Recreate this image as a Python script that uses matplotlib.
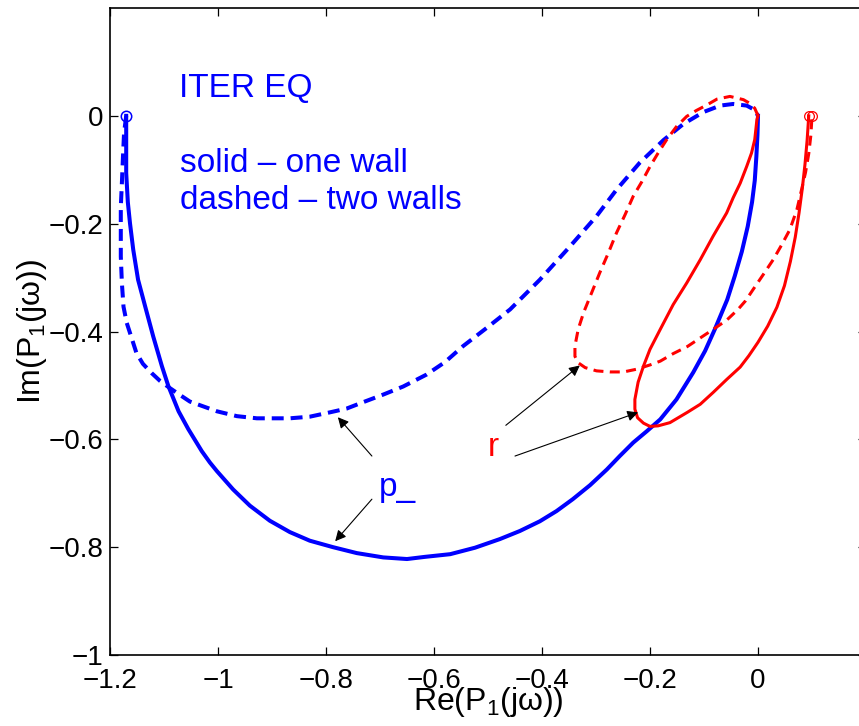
import matplotlib
matplotlib.use("Agg")
import matplotlib.pyplot as plt

plt.rcParams['font.family'] = ['Liberation Sans', 'DejaVu Sans']
plt.rcParams['mathtext.fontset'] = 'custom'
plt.rcParams['mathtext.rm'] = 'Liberation Sans'
plt.rcParams['mathtext.it'] = 'Liberation Sans:italic'
plt.rcParams['lines.scale_dashes'] = False

# ---- data ----
# p_ , one wall (blue solid)
p_one_re = [-1.170, -1.170, -1.170, -1.170, -1.167, -1.163, -1.157, -1.148, -1.135, -1.120,
            -1.104, -1.092, -1.073, -1.055, -1.030, -1.015, -1.002, -0.972, -0.941, -0.904,
            -0.867, -0.830, -0.787, -0.743, -0.694, -0.650, -0.617, -0.570, -0.524, -0.478,
            -0.441, -0.404, -0.373, -0.343, -0.311, -0.280, -0.256, -0.231, -0.206, -0.181,
            -0.151, -0.120, -0.098, -0.080, -0.057, -0.043, -0.030, -0.019, -0.011, -0.006,
            -0.003, -0.001, 0.000]
p_one_im = [0.000, -0.032, -0.076, -0.106, -0.160, -0.199, -0.248, -0.304, -0.353, -0.409,
            -0.464, -0.501, -0.548, -0.581, -0.622, -0.643, -0.659, -0.693, -0.723, -0.751,
            -0.772, -0.788, -0.800, -0.811, -0.819, -0.822, -0.818, -0.813, -0.801, -0.785,
            -0.770, -0.752, -0.733, -0.711, -0.685, -0.656, -0.631, -0.606, -0.585, -0.563,
            -0.526, -0.476, -0.436, -0.396, -0.341, -0.297, -0.252, -0.205, -0.160, -0.120,
            -0.075, -0.035, 0.000]

# p_ , two walls (blue dashed)
p_two_re = [-1.170, -1.174, -1.176, -1.178, -1.180, -1.180, -1.180, -1.178, -1.175, -1.169,
            -1.159, -1.151, -1.139, -1.123, -1.107, -1.089, -1.070, -1.052, -1.002, -0.965,
            -0.928, -0.867, -0.830, -0.793, -0.762, -0.731, -0.694, -0.657, -0.614, -0.580,
            -0.546, -0.502, -0.459, -0.404, -0.348, -0.299, -0.262, -0.219, -0.175, -0.138,
            -0.101, -0.070, -0.046, -0.021, -0.006, 0.000]
p_two_im = [0.000, -0.032, -0.076, -0.125, -0.169, -0.217, -0.261, -0.310, -0.354, -0.384,
            -0.415, -0.440, -0.460, -0.477, -0.492, -0.505, -0.518, -0.530, -0.548, -0.557,
            -0.561, -0.561, -0.558, -0.550, -0.543, -0.531, -0.517, -0.502, -0.480, -0.457,
            -0.427, -0.393, -0.359, -0.304, -0.242, -0.186, -0.137, -0.087, -0.045, -0.015,
            0.007, 0.019, 0.022, 0.019, 0.011, 0.000]

# r , one wall (red solid)
r_one_re = [0.000, -0.002, -0.006, -0.012, -0.021, -0.033, -0.046, -0.058, -0.083, -0.107,
            -0.132, -0.157, -0.181, -0.200, -0.212, -0.222, -0.228, -0.228, -0.223, -0.212,
            -0.200, -0.185, -0.163, -0.131, -0.107, -0.083, -0.058, -0.033, -0.017, 0.000,
            0.018, 0.035, 0.049, 0.060, 0.069, 0.076, 0.082, 0.087, 0.091, 0.094]
r_one_im = [0.000, -0.007, -0.044, -0.069, -0.094, -0.125, -0.152, -0.180, -0.223, -0.267,
            -0.310, -0.350, -0.396, -0.433, -0.464, -0.494, -0.526, -0.544, -0.560, -0.570,
            -0.576, -0.575, -0.569, -0.550, -0.535, -0.513, -0.489, -0.466, -0.445, -0.420,
            -0.390, -0.355, -0.315, -0.270, -0.225, -0.180, -0.135, -0.090, -0.045, 0.000]

# r , two walls (red dashed)
r_two_re = [0.000, -0.006, -0.015, -0.027, -0.052, -0.076, -0.095, -0.114, -0.132, -0.151,
            -0.169, -0.185, -0.200, -0.215, -0.231, -0.246, -0.262, -0.277, -0.293, -0.308,
            -0.323, -0.333, -0.339, -0.339, -0.333, -0.320, -0.299, -0.274, -0.249, -0.225,
            -0.200, -0.181, -0.157, -0.131, -0.107, -0.083, -0.058, -0.037, -0.023, -0.009,
            0.010, 0.028, 0.044, 0.059, 0.072, 0.080, 0.088, 0.094, 0.098, 0.100]
r_two_im = [0.000, 0.014, 0.023, 0.030, 0.036, 0.031, 0.020, 0.010, -0.001, -0.020,
            -0.044, -0.069, -0.094, -0.122, -0.149, -0.183, -0.217, -0.254, -0.291, -0.328,
            -0.365, -0.396, -0.427, -0.446, -0.458, -0.467, -0.473, -0.475, -0.475, -0.470,
            -0.462, -0.455, -0.441, -0.428, -0.412, -0.396, -0.379, -0.359, -0.343, -0.322,
            -0.294, -0.267, -0.239, -0.211, -0.174, -0.140, -0.105, -0.070, -0.035, 0.000]

x_ticks = [-1.2, -1.0, -0.8, -0.6, -0.4, -0.2, 0.0]
x_tick_labels = ['\u22121.2', '\u22121', '\u22120.8', '\u22120.6', '\u22120.4', '\u22120.2', '0']
y_ticks = [-1.0, -0.8, -0.6, -0.4, -0.2, 0.0]
y_tick_labels = ['\u22121', '\u22120.8', '\u22120.6', '\u22120.4', '\u22120.2', '0']

# ---- figure ----
fig = plt.figure(figsize=(8.59, 7.26), dpi=100)
ax = fig.add_axes([110/859, 71/726, 756/859, 647/726])

blue = (0, 0, 1)
red = (1, 0, 0)

ax.plot(p_one_re, p_one_im, color=blue, lw=2.9, solid_joinstyle='round')
ax.plot(p_two_re, p_two_im, color=blue, lw=2.9, linestyle=(0, (8.6, 5.0)))
ax.plot(r_one_re, r_one_im, color=red, lw=2.2, solid_joinstyle='round')
ax.plot(r_two_re, r_two_im, color=red, lw=2.2, linestyle=(0, (7.2, 4.6)))

# start markers
ax.plot([p_one_re[0]], [p_one_im[0]], 'o', mfc='none', mec=blue, ms=7.5, mew=1.1)
ax.plot([r_one_re[-1]], [r_one_im[-1]], 'o', mfc='none', mec=red, ms=7, mew=0.9)
ax.plot([r_two_re[-1]], [r_two_im[-1]], 'o', mfc='none', mec=red, ms=7, mew=0.9)

ax.set_xlim(-1.2, 0.2)
ax.set_ylim(-1.0, 0.2)
ax.set_xticks(x_ticks)
ax.set_xticklabels(x_tick_labels)
ax.set_yticks(y_ticks)
ax.set_yticklabels(y_tick_labels)
ax.tick_params(axis='both', direction='in', length=6, width=0.9, labelsize=20,
               top=True, right=True, colors='black')
ax.tick_params(axis='x', pad=9)
ax.tick_params(axis='y', pad=5)
for s in ax.spines.values():
    s.set_linewidth(1.2)

ax.set_xlabel('Re(P$_{\\mathrm{1}}$(j\u03c9))', fontsize=23, va='baseline', ha='center')
ax.xaxis.set_label_coords(0.5, -0.085)
ax.set_ylabel('Im(P$_{\\mathrm{1}}$(j\u03c9))', fontsize=23, va='baseline', ha='center')
ax.yaxis.set_label_coords(-0.093, 0.5)

# annotations
ax.text(-1.073, 0.035, 'ITER EQ', color=blue, fontsize=24, va='baseline', ha='left')
ax.text(-1.071, -0.104, 'solid \u2013 one wall', color=blue, fontsize=24, va='baseline', ha='left')
ax.text(-1.071, -0.172, 'dashed \u2013 two walls', color=blue, fontsize=24, va='baseline', ha='left')
ax.text(-0.702, -0.706, 'p_', color=blue, fontsize=24, va='baseline', ha='left')
ax.text(-0.500, -0.631, 'r', color=red, fontsize=24, va='baseline', ha='left')

arrow = dict(arrowstyle='-|>', color='black', lw=0.8, mutation_scale=16,
             shrinkA=0, shrinkB=0)
ax.annotate('', xy=(-0.778, -0.559), xytext=(-0.715, -0.631), arrowprops=arrow)
ax.annotate('', xy=(-0.783, -0.789), xytext=(-0.715, -0.711), arrowprops=arrow)
ax.annotate('', xy=(-0.330, -0.463), xytext=(-0.467, -0.574), arrowprops=arrow)
ax.annotate('', xy=(-0.222, -0.550), xytext=(-0.450, -0.631), arrowprops=arrow)

fig.savefig('out.png', dpi=100)
